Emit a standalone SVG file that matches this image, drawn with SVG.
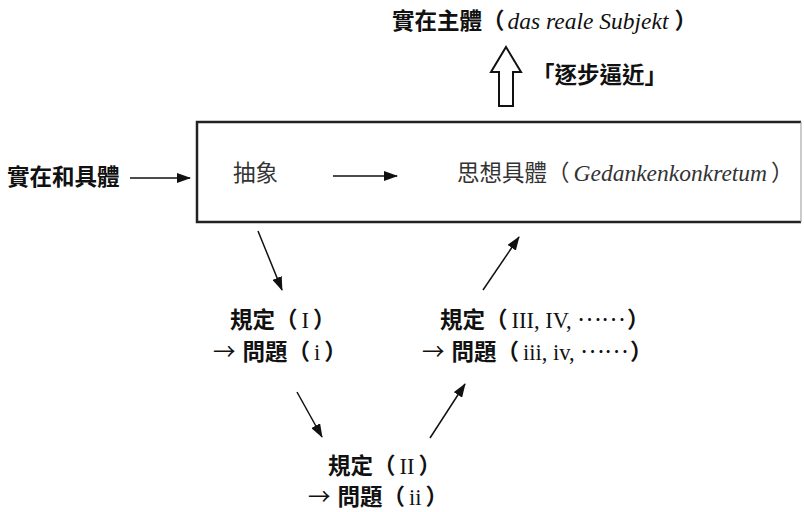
<svg xmlns="http://www.w3.org/2000/svg" width="804" height="512" viewBox="0 0 804 512">
<defs>
<marker id="ah" viewBox="0 0 14 10" refX="13" refY="5" markerWidth="14" markerHeight="10" markerUnits="userSpaceOnUse" orient="auto">
<path d="M0,0 L14,5 L0,10 Z" fill="#111"/>
</marker>
<style>
.t{font-family:"Liberation Serif","DejaVu Serif",serif;font-size:22.5px;fill:#111}
.in{font-family:"Liberation Serif","DejaVu Serif",serif;font-size:22.5px;fill:#333}
.b{font-family:"Noto Sans CJK TC",sans-serif;font-weight:700}
.cj{font-family:"Noto Sans CJK TC",sans-serif;font-weight:400}
.it{font-family:"Liberation Serif","DejaVu Serif",serif;font-style:italic;font-weight:400;font-size:23.5px}
.c{stroke:#111;stroke-width:1.5;fill:none}
</style>
</defs>
<rect width="804" height="512" fill="#fff"/>
<g id="subject">
<text class="t" x="392" y="29"><tspan class="b">實在主體（</tspan><tspan class="it" dx="3">das reale Subjekt</tspan><tspan class="b" dx="6">）</tspan></text>
</g>
<g id="approach">
<path d="M506,47 L521,72 L513,72 L513,106 L499,106 L499,72 L491,72 Z" fill="#fff" stroke="#111" stroke-width="2"/>
<text class="t" x="532" y="83"><tspan class="b">「逐步逼近」</tspan></text>
</g>
<g id="box">
<path d="M801,122 L197,122 L197,222 L801,222" fill="none" stroke="#222" stroke-width="2.5"/>
<line x1="801" y1="122" x2="801" y2="222" stroke="#999" stroke-width="1"/>
<text class="in" x="233" y="181"><tspan class="cj">抽象</tspan></text>
<text class="in" x="457" y="181"><tspan class="cj">思想具體（</tspan><tspan class="it" dx="4">Gedankenkonkretum</tspan><tspan class="cj" dx="4">）</tspan></text>
</g>
<g id="real">
<text class="t" x="7" y="185"><tspan class="b">實在和具體</tspan></text>
</g>
<g id="d1">
<text class="t" x="230" y="328"><tspan class="b">規定（</tspan><tspan dx="4">I</tspan><tspan class="b" dx="4">）</tspan></text>
<text class="t" x="213" y="360"><tspan class="cj">→ </tspan><tspan class="b" dx="2">問題（</tspan><tspan dx="4">i</tspan><tspan class="b" dx="4">）</tspan></text>
</g>
<g id="d2">
<text class="t" x="328" y="474"><tspan class="b">規定（</tspan><tspan dx="4">II</tspan><tspan class="b" dx="4">）</tspan></text>
<text class="t" x="308" y="505"><tspan class="cj">→ </tspan><tspan class="b" dx="2">問題（</tspan><tspan dx="4">ii</tspan><tspan class="b" dx="4">）</tspan></text>
</g>
<g id="d3">
<text class="t" x="440" y="328"><tspan class="b">規定（</tspan><tspan dx="4">III, IV, </tspan><tspan class="cj" dy="-7">……</tspan><tspan class="b" dy="7" dx="2">）</tspan></text>
<text class="t" x="422" y="360"><tspan class="cj">→ </tspan><tspan class="b" dx="2">問題（</tspan><tspan dx="4">iii, iv, </tspan><tspan class="cj" dy="-7">……</tspan><tspan class="b" dy="7" dx="2">）</tspan></text>
</g>
<g id="connectors">
<line class="c" x1="130" y1="178" x2="190" y2="178" stroke-width="2.2" marker-end="url(#ah)"/>
<line class="c" x1="333" y1="176" x2="397" y2="176" marker-end="url(#ah)"/>
<line class="c" x1="258" y1="231" x2="282" y2="290" marker-end="url(#ah)"/>
<line class="c" x1="483" y1="290" x2="519" y2="237" marker-end="url(#ah)"/>
<line class="c" x1="297" y1="392" x2="322" y2="437" marker-end="url(#ah)"/>
<line class="c" x1="430" y1="438" x2="465" y2="384" marker-end="url(#ah)"/>
</g>
</svg>
